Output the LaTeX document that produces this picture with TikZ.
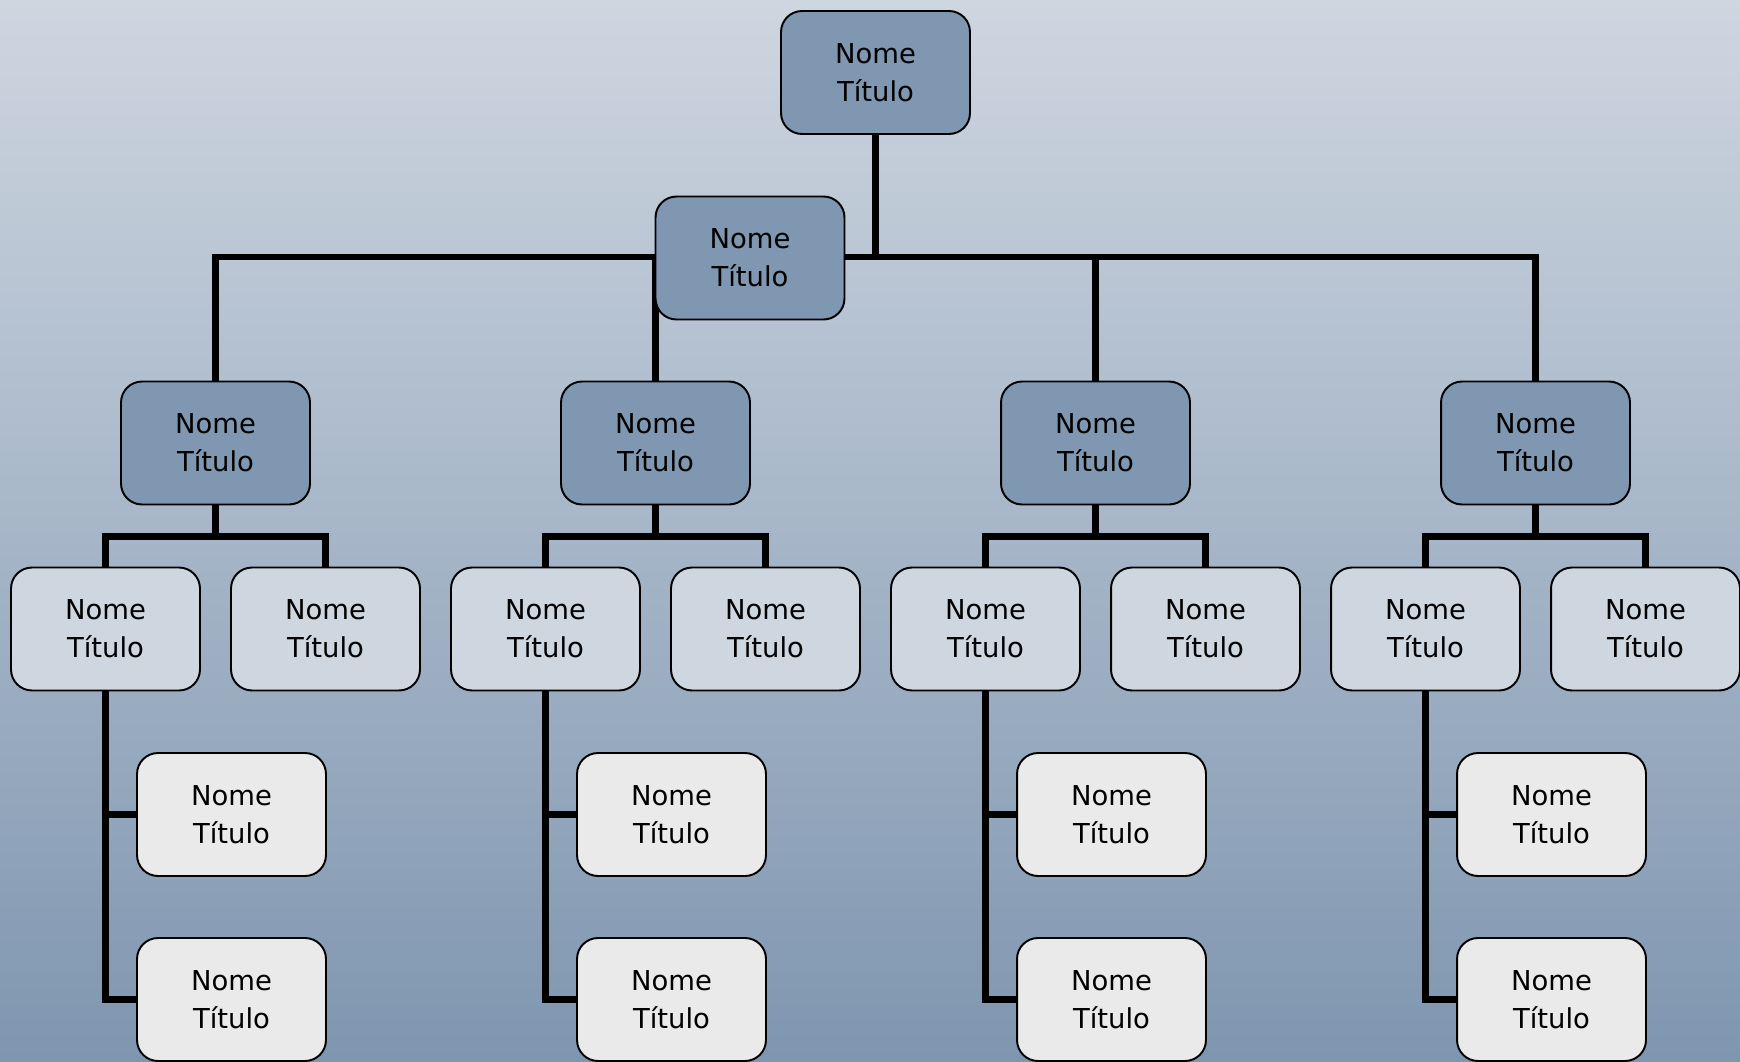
\documentclass[tikz,border=0pt]{standalone}
\usepackage{fontspec}
\setmainfont{DejaVu Sans}
\usetikzlibrary{calc}

\definecolor{bg_top}{HTML}{CED6E0}
\definecolor{bg_bottom}{HTML}{7F96B0}
\definecolor{dark_fill}{HTML}{7F97B0}
\definecolor{mid_fill}{HTML}{CED6E0}
\definecolor{light_fill}{HTML}{EAEAEA}

\begin{document}
\begin{tikzpicture}[x=0.02cm,y=-0.02cm,
		box_node/.style={rectangle,rounded corners=0.42cm,draw=black,line width=1.1pt,minimum width=3.78cm,minimum height=2.46cm,inner sep=2pt,align=center,font=\fontsize{15.6}{21.6}\selectfont},
		boss_node/.style={box_node,fill=dark_fill},
		mid_node/.style={box_node,fill=mid_fill},
		leaf_node/.style={box_node,fill=light_fill},
		link/.style={line width=3.5pt}]
		
		\useasboundingbox (0,0) rectangle (1740,1061);
		\fill[top color=bg_top,bottom color=bg_bottom] (0,0) rectangle (1740,1061);
		
		\node[boss_node] (1) at (875.5,72.5) {Nome\\Título};
		
		\node[boss_node] (3) at (215.5,443) {Nome\\Título};
		\node[boss_node] (4) at (655.5,443) {Nome\\Título};
		\node[boss_node] (5) at (1095.5,443) {Nome\\Título};
		\node[boss_node] (6) at (1535.5,443) {Nome\\Título};
		
		\node[mid_node] (7) at (105.5,629) {Nome\\Título};
		\node[mid_node] (8) at (325.5,629) {Nome\\Título};
		\node[mid_node] (9) at (545.5,629) {Nome\\Título};
		\node[mid_node] (10) at (765.5,629) {Nome\\Título};
		\node[mid_node] (11) at (985.5,629) {Nome\\Título};
		\node[mid_node] (12) at (1205.5,629) {Nome\\Título};
		\node[mid_node] (13) at (1425.5,629) {Nome\\Título};
		\node[mid_node] (14) at (1645.5,629) {Nome\\Título};
		
		\node[leaf_node] (15) at (231.5,814.5) {Nome\\Título};
		\node[leaf_node] (16) at (231.5,999.5) {Nome\\Título};
		\node[leaf_node] (17) at (671.5,814.5) {Nome\\Título};
		\node[leaf_node] (18) at (671.5,999.5) {Nome\\Título};
		\node[leaf_node] (19) at (1111.5,814.5) {Nome\\Título};
		\node[leaf_node] (20) at (1111.5,999.5) {Nome\\Título};
		\node[leaf_node] (21) at (1551.5,814.5) {Nome\\Título};
		\node[leaf_node] (22) at (1551.5,999.5) {Nome\\Título};
		
		\coordinate (bar) at (875.5,257);
		\draw[link] (1.south) -- (bar);
		\draw[link] (3.north) |- (bar) -| (6.north);
		\draw[link] (4.north) -- (4.north |- bar);
		\draw[link] (5.north) -- (5.north |- bar);
		
		\draw[link] (3.south) -- ++(0,31) coordinate (b3);
		\draw[link] (7.north) |- (b3) -| (8.north);
		\draw[link] (4.south) -- ++(0,31) coordinate (b4);
		\draw[link] (9.north) |- (b4) -| (10.north);
		\draw[link] (5.south) -- ++(0,31) coordinate (b5);
		\draw[link] (11.north) |- (b5) -| (12.north);
		\draw[link] (6.south) -- ++(0,31) coordinate (b6);
		\draw[link] (13.north) |- (b6) -| (14.north);
		
		\draw[link] (7.south) |- (16.west);
		\draw[link] (15.west) -- (15.west -| 7.south);
		\draw[link] (9.south) |- (18.west);
		\draw[link] (17.west) -- (17.west -| 9.south);
		\draw[link] (11.south) |- (20.west);
		\draw[link] (19.west) -- (19.west -| 11.south);
		\draw[link] (13.south) |- (22.west);
		\draw[link] (21.west) -- (21.west -| 13.south);
		
		\node[boss_node] (2) at (750,258) {Nome\\Título};
		\end{tikzpicture}
\end{document}
